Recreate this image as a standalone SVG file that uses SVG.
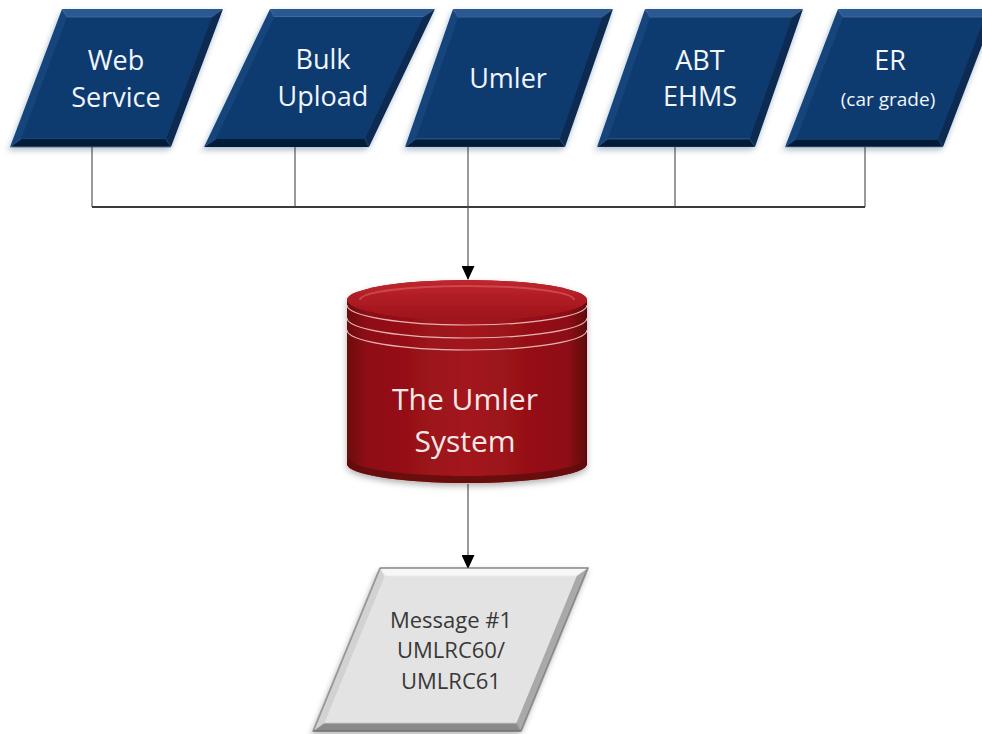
<svg xmlns="http://www.w3.org/2000/svg" width="982" height="734" viewBox="0 0 982 734">
<style>
.bt{fill:#2A5890}.br{fill:#0A2A52}.bb{fill:#061C3A}.bl{fill:#17457C}.bc{fill:#0F3B6F}
.gt{fill:#F7F7F7}.gr{fill:#A9A9A9}.gb{fill:#8A8A8A}.gl{fill:#D2D2D2}.gc{fill:#E3E3E3}
.lbl{font-family:"Open Sans","Liberation Sans",sans-serif;fill:#F2F5FA;text-anchor:middle}
.msg{font-family:"Open Sans","Liberation Sans",sans-serif;fill:#383838;text-anchor:middle;font-size:22px}
.cyl{font-family:"Open Sans","Liberation Sans",sans-serif;fill:#F7E8E8;text-anchor:middle;font-size:30px}
.wire{fill:none;stroke:#555;stroke-width:1.2}
.bus{fill:none;stroke:#3A3A3A;stroke-width:2}
.ring{fill:none;stroke:#E9B4B4;stroke-width:1.2}
</style>
<defs>
<filter id="sh" x="-20%" y="-20%" width="140%" height="140%">
<feDropShadow dx="0" dy="3" stdDeviation="3" flood-color="#1B3A66" flood-opacity="0.35"/>
</filter>
<filter id="shg" x="-20%" y="-20%" width="140%" height="140%">
<feDropShadow dx="0" dy="3" stdDeviation="3" flood-color="#000" flood-opacity="0.3"/>
</filter>
<marker id="ad" markerWidth="14" markerHeight="13" refX="13" refY="6.5" orient="auto" markerUnits="userSpaceOnUse" viewBox="0 0 14 13">
<path d="M0,0 L14,6.5 L0,13 Z" fill="#000"/>
</marker>
<linearGradient id="red" x1="0" y1="0" x2="1" y2="0">
<stop offset="0" stop-color="#6A070C"/>
<stop offset="0.08" stop-color="#8E0F16"/>
<stop offset="0.5" stop-color="#A3141C"/>
<stop offset="0.92" stop-color="#8E0F16"/>
<stop offset="1" stop-color="#5E0609"/>
</linearGradient>
<linearGradient id="cap" x1="0" y1="0" x2="0" y2="1">
<stop offset="0" stop-color="#C0262E"/>
<stop offset="1" stop-color="#9C1219"/>
</linearGradient>
</defs>

<g id="connectors">
<path class="wire" d="M92,147 V207"/>
<path class="wire" d="M295,147 V207"/>
<path class="wire" d="M675,147 V207"/>
<path class="wire" d="M865,147 V207"/>
<path class="wire" d="M468,147 V207"/>
<path class="bus" d="M92,207 H865"/>
<path class="wire" d="M468,207 V279" marker-end="url(#ad)"/>
<path class="wire" d="M468,484 V568" marker-end="url(#ad)"/>
</g>

<g id="web-service">
<g filter="url(#sh)" transform="translate(62,9) skewX(-20.65)">
<polygon class="bt" points="0,0 161,0 153,8 8,8"/>
<polygon class="br" points="161,0 161,138 153,130 153,8"/>
<polygon class="bb" points="161,138 0,138 8,130 153,130"/>
<polygon class="bl" points="0,138 0,0 8,8 8,130"/>
<rect class="bc" x="8" y="8" width="145" height="122"/>
</g>
<text class="lbl" font-size="27" x="116" y="70">Web</text>
<text class="lbl" font-size="27" x="116" y="107">Service</text>
</g>

<g id="bulk-upload">
<g filter="url(#sh)" transform="translate(270,9) skewX(-25.56)">
<polygon class="bt" points="0,0 165,0 157,8 8,8"/>
<polygon class="br" points="165,0 165,138 157,130 157,8"/>
<polygon class="bb" points="165,138 0,138 8,130 157,130"/>
<polygon class="bl" points="0,138 0,0 8,8 8,130"/>
<rect class="bc" x="8" y="8" width="149" height="122"/>
</g>
<text class="lbl" font-size="27" x="323" y="69">Bulk</text>
<text class="lbl" font-size="27" x="323" y="106">Upload</text>
</g>

<g id="umler">
<g filter="url(#sh)" transform="translate(453,9) skewX(-19.18)">
<polygon class="bt" points="0,0 160,0 152,8 8,8"/>
<polygon class="br" points="160,0 160,138 152,130 152,8"/>
<polygon class="bb" points="160,138 0,138 8,130 152,130"/>
<polygon class="bl" points="0,138 0,0 8,8 8,130"/>
<rect class="bc" x="8" y="8" width="144" height="122"/>
</g>
<text class="lbl" font-size="27" x="508" y="88">Umler</text>
</g>

<g id="abt-ehms">
<g filter="url(#sh)" transform="translate(645,9) skewX(-19.18)">
<polygon class="bt" points="0,0 158,0 150,8 8,8"/>
<polygon class="br" points="158,0 158,138 150,130 150,8"/>
<polygon class="bb" points="158,138 0,138 8,130 150,130"/>
<polygon class="bl" points="0,138 0,0 8,8 8,130"/>
<rect class="bc" x="8" y="8" width="142" height="122"/>
</g>
<text class="lbl" font-size="27" x="700" y="70">ABT</text>
<text class="lbl" font-size="27" x="700" y="106">EHMS</text>
</g>

<g id="er">
<g filter="url(#sh)" transform="translate(838,9) skewX(-21)">
<polygon class="bt" points="0,0 158,0 150,8 8,8"/>
<polygon class="br" points="158,0 158,138 150,130 150,8"/>
<polygon class="bb" points="158,138 0,138 8,130 150,130"/>
<polygon class="bl" points="0,138 0,0 8,8 8,130"/>
<rect class="bc" x="8" y="8" width="142" height="122"/>
</g>
<text class="lbl" font-size="27" x="890" y="70">ER</text>
<text class="lbl" font-size="19" x="888" y="106">(car grade)</text>
</g>

<g id="umler-system">
<g filter="url(#shg)">
<path d="M347,300 V464 A120,19 0 0 0 587,464 V300 A120,20 0 0 0 347,300 Z" fill="url(#red)"/>
<path d="M349,458 A118,18 0 0 0 585,458 L587,464 A120,19 0 0 1 347,464 Z" fill="#5E070B" opacity="0.8"/>
<ellipse cx="467" cy="300" rx="120" ry="20" fill="url(#cap)"/>
<path d="M360,300 A107,14 0 0 1 574,300" fill="none" stroke="#D8555B" stroke-width="2" opacity="0.7"/>
<path class="ring" d="M347,305 A120,20 0 0 0 587,305"/>
<path class="ring" d="M347,318 A120,20 0 0 0 587,318"/>
<path class="ring" d="M347,330 A120,20 0 0 0 587,330"/>
</g>
<text class="cyl" x="465" y="410">The Umler</text>
<text class="cyl" x="465" y="452">System</text>
</g>

<g id="message">
<g filter="url(#shg)" transform="translate(380,568) skewX(-22.3)">
<polygon class="gt" points="0,0 208,0 200,8 8,8"/>
<polygon class="gr" points="208,0 208,163 200,155 200,8"/>
<polygon class="gb" points="208,163 0,163 8,155 200,155"/>
<polygon class="gl" points="0,163 0,0 8,8 8,155"/>
<rect class="gc" x="8" y="8" width="192" height="147"/>
<rect x="0" y="0" width="208" height="163" fill="none" stroke="#555" stroke-width="1"/>
</g>
<text class="msg" x="451" y="628">Message #1</text>
<text class="msg" x="451" y="658">UMLRC60/</text>
<text class="msg" x="451" y="689">UMLRC61</text>
</g>
</svg>
